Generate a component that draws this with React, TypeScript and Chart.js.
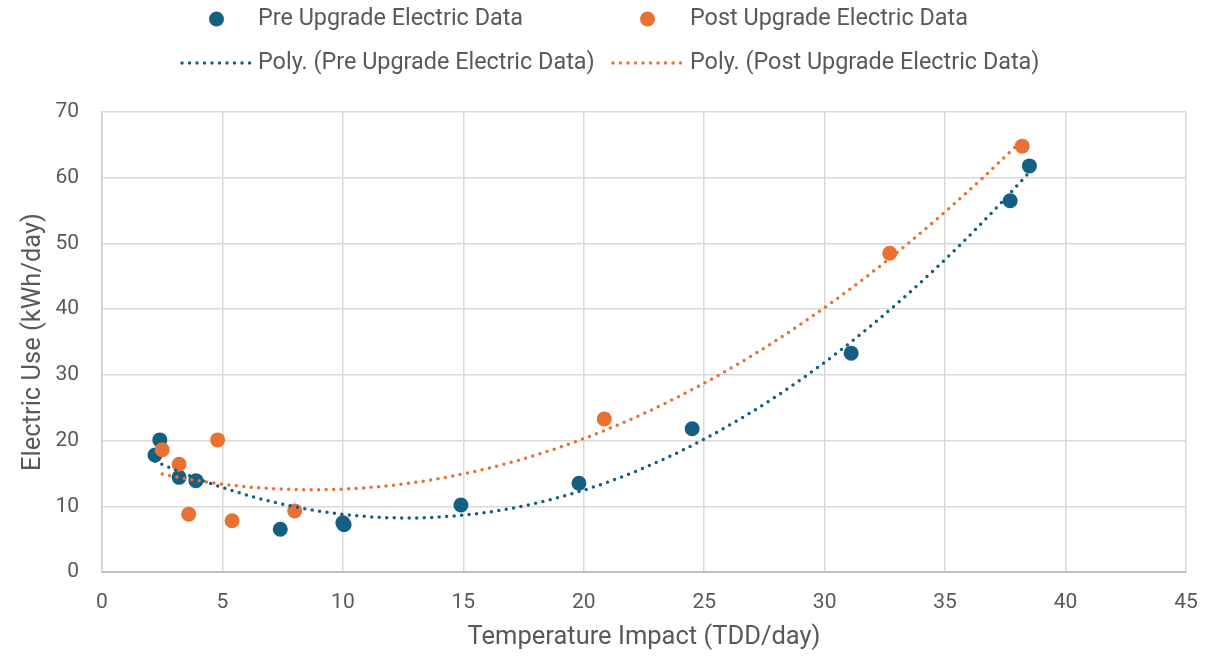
import React, { useEffect, useRef } from 'react';
import { Chart, registerables } from 'chart.js';

Chart.register(...registerables);

// ---- data ----
const preTemp = [2.2, 2.4, 3.2, 3.9, 7.4, 10.0, 10.05, 14.9, 19.8, 24.5, 31.1, 37.7, 38.5];
const preUse = [17.8, 20.1, 14.4, 13.9, 6.5, 7.5, 7.2, 10.2, 13.5, 21.8, 33.3, 56.5, 61.8];
const postTemp = [2.5, 3.2, 3.6, 4.8, 5.4, 8.0, 20.85, 32.7, 38.2];
const postUse = [18.6, 16.4, 8.8, 20.1, 7.8, 9.3, 23.3, 48.5, 64.8];

const seriesNames = ['Pre Upgrade Electric Data', 'Post Upgrade Electric Data'];
const trendNames = ['Poly. (Pre Upgrade Electric Data)', 'Poly. (Post Upgrade Electric Data)'];
const xTitle = 'Temperature Impact (TDD/day)';
const yTitle = 'Electric Use (kWh/day)';
const xMin = 0, xMax = 45, xStep = 5;
const yMin = 0, yMax = 70, yStep = 10;

const BLUE = '#156082';
const ORANGE = '#E97132';
const TEXT = '#595959';
const FONT = 'Roboto';

// least-squares quadratic trendline (like Excel's Poly. order 2)
function quadFit(xs: number[], ys: number[]) {
  let s0 = 0, s1 = 0, s2 = 0, s3 = 0, s4 = 0, t0 = 0, t1 = 0, t2 = 0;
  for (let i = 0; i < xs.length; i++) {
    const x = xs[i], y = ys[i];
    s0 += 1; s1 += x; s2 += x * x; s3 += x * x * x; s4 += x * x * x * x;
    t0 += y; t1 += x * y; t2 += x * x * y;
  }
  const M = [
    [s0, s1, s2, t0],
    [s1, s2, s3, t1],
    [s2, s3, s4, t2],
  ];
  for (let c = 0; c < 3; c++) {
    let p = c;
    for (let r = c + 1; r < 3; r++) if (Math.abs(M[r][c]) > Math.abs(M[p][c])) p = r;
    [M[c], M[p]] = [M[p], M[c]];
    for (let r = 0; r < 3; r++) {
      if (r === c) continue;
      const f = M[r][c] / M[c][c];
      for (let k = c; k < 4; k++) M[r][k] -= f * M[c][k];
    }
  }
  return [M[0][3] / M[0][0], M[1][3] / M[1][1], M[2][3] / M[2][2]];
}

function trendPoints(xs: number[], ys: number[]) {
  const [a, b, c] = quadFit(xs, ys);
  const lo = Math.min(...xs), hi = Math.max(...xs);
  const n = 300;
  const pts: { x: number; y: number }[] = [];
  for (let i = 0; i <= n; i++) {
    const x = lo + ((hi - lo) * i) / n;
    pts.push({ x, y: a + b * x + c * x * x });
  }
  return pts;
}

const legendPlugin = {
  id: 'excelLegend',
  afterDraw(chart: any) {
    const ctx = chart.ctx as CanvasRenderingContext2D;
    ctx.save();
    const cols = [182, 613];
    const sampleW = 69;
    const textX = [258, 690];
    const rows = [19, 63];
    const colors = [BLUE, ORANGE];
    ctx.font = `23.4px ${FONT}`;
    ctx.textBaseline = 'middle';
    ctx.textAlign = 'left';
    for (let i = 0; i < 2; i++) {
      ctx.fillStyle = colors[i];
      ctx.beginPath();
      ctx.arc(cols[i] + sampleW / 2, rows[0], 7.5, 0, Math.PI * 2);
      ctx.fill();
      ctx.fillStyle = TEXT;
      ctx.fillText(seriesNames[i], textX[i], rows[0]);
      ctx.strokeStyle = colors[i];
      ctx.lineWidth = 3.5;
      ctx.lineCap = 'round';
      ctx.setLineDash([0, 7.5]);
      ctx.beginPath();
      ctx.moveTo(cols[i], rows[1]);
      ctx.lineTo(cols[i] + sampleW, rows[1]);
      ctx.stroke();
      ctx.setLineDash([]);
      ctx.fillStyle = TEXT;
      ctx.fillText(trendNames[i], textX[i], rows[1]);
    }
    ctx.restore();
  },
};

export default function App() {
  const ref = useRef<HTMLCanvasElement | null>(null);

  useEffect(() => {
    if (!ref.current) return;
    const chart = new Chart(ref.current, {
      type: 'scatter',
      data: {
        datasets: [
          {
            label: trendNames[0],
            data: trendPoints(preTemp, preUse),
            showLine: true,
            borderColor: BLUE,
            borderWidth: 3.5,
            borderDash: [0, 7.5],
            borderCapStyle: 'round',
            pointRadius: 0,
            pointHoverRadius: 0,
            fill: false,
            order: 0,
          } as any,
          {
            label: trendNames[1],
            data: trendPoints(postTemp, postUse),
            showLine: true,
            borderColor: ORANGE,
            borderWidth: 3.5,
            borderDash: [0, 7.5],
            borderCapStyle: 'round',
            pointRadius: 0,
            pointHoverRadius: 0,
            fill: false,
            order: 0,
          } as any,
          {
            label: seriesNames[0],
            data: preTemp.map((x, i) => ({ x, y: preUse[i] })),
            backgroundColor: BLUE,
            borderColor: BLUE,
            pointRadius: 7.5,
            pointBorderWidth: 0,
            order: 2,
          },
          {
            label: seriesNames[1],
            data: postTemp.map((x, i) => ({ x, y: postUse[i] })),
            backgroundColor: ORANGE,
            borderColor: ORANGE,
            pointRadius: 7.5,
            pointBorderWidth: 0,
            order: 1,
          },
        ],
      },
      options: {
        animation: false,
        responsive: false,
        layout: { padding: { top: 112, right: 42, left: 0, bottom: 0 } },
        plugins: {
          legend: { display: false },
          tooltip: { enabled: false },
        },
        scales: {
          x: {
            type: 'linear',
            min: xMin,
            max: xMax,
            ticks: {
              stepSize: xStep,
              color: TEXT,
              font: { family: FONT, size: 21 },
              padding: 18,
            },
            grid: { color: '#D9D9D9', lineWidth: 1.5, drawTicks: false },
            border: { color: '#BFBFBF', width: 2 },
            title: {
              display: true,
              text: xTitle,
              color: TEXT,
              font: { family: FONT, size: 25.5 },
              padding: { top: 0, bottom: 5 },
            },
            afterFit(scale: any) {
              scale.height = 86;
            },
          },
          y: {
            type: 'linear',
            min: yMin,
            max: yMax,
            ticks: {
              stepSize: yStep,
              color: TEXT,
              font: { family: FONT, size: 21 },
              padding: 23,
            },
            grid: { color: '#D9D9D9', lineWidth: 1.5, drawTicks: false },
            border: { color: '#D0D0D0', width: 1.5 },
            title: {
              display: true,
              text: yTitle,
              color: TEXT,
              font: { family: FONT, size: 25.5 },
              padding: { top: 18, bottom: 0 },
            },
            afterFit(scale: any) {
              scale.width = 102;
            },
          },
        },
      },
      plugins: [legendPlugin],
    });
    return () => chart.destroy();
  }, []);

  return (
    <div style={{ position: 'fixed', left: 0, top: 0, width: 1228, height: 658, background: '#fff' }}>
      <canvas ref={ref} width={1228} height={658} style={{ width: 1228, height: 658 }} />
    </div>
  );
}
